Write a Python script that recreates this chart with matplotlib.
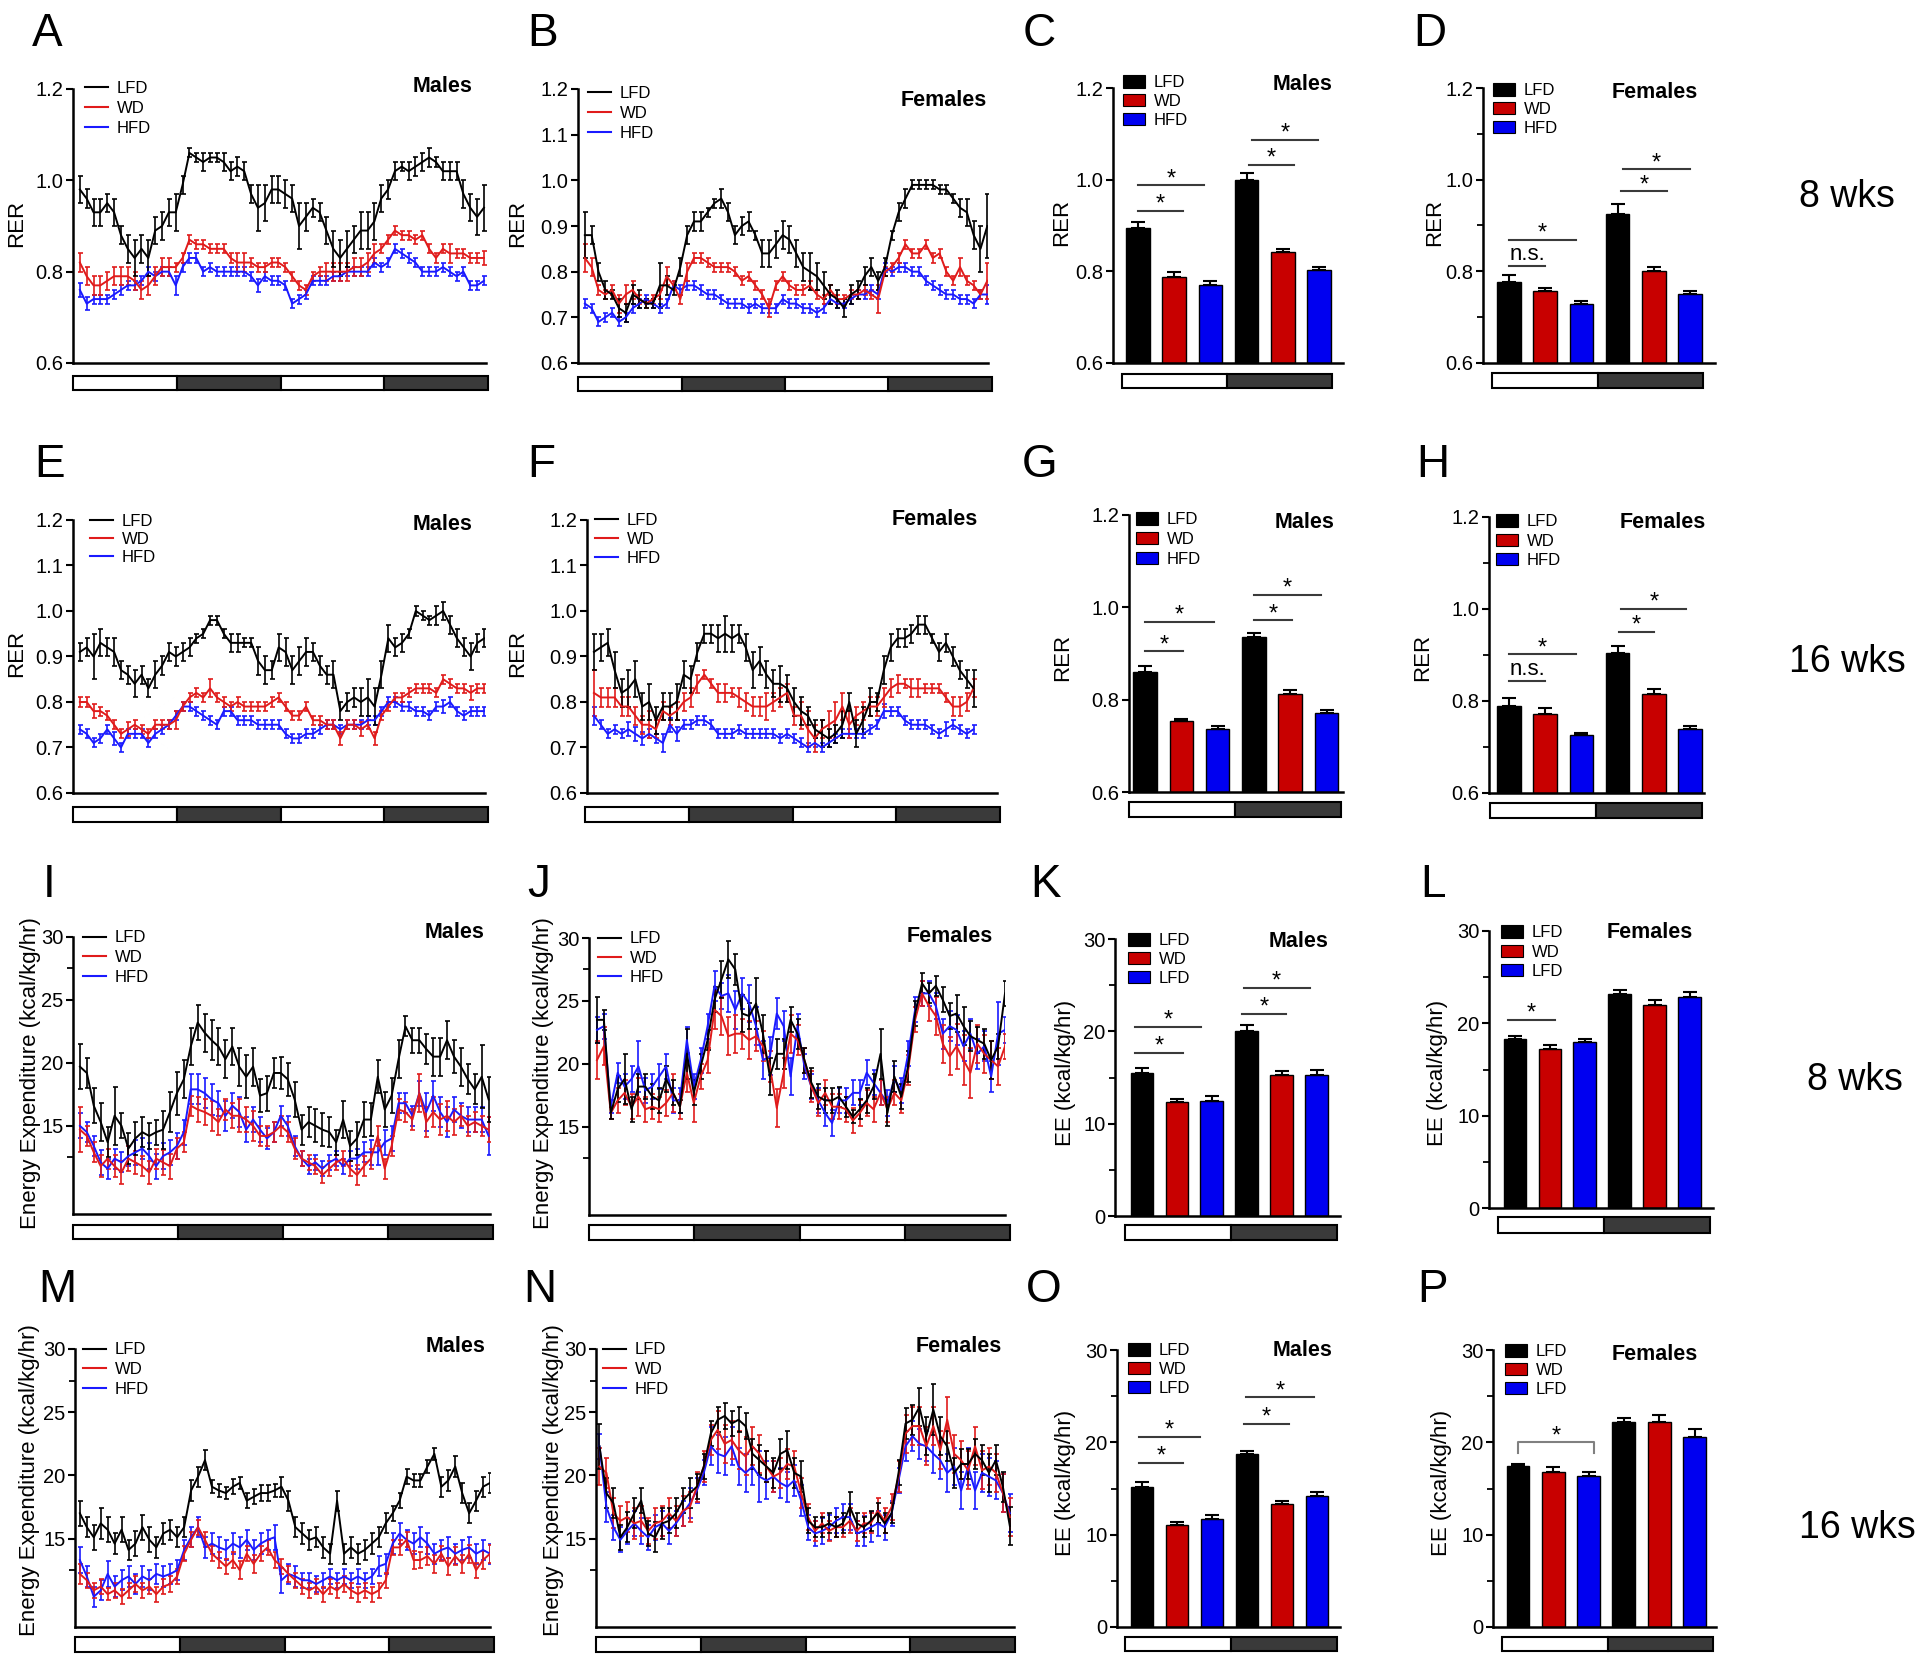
import numpy as np
import matplotlib
matplotlib.use("Agg")
import matplotlib.pyplot as plt
from matplotlib.lines import Line2D
from matplotlib.patches import Patch, Rectangle
from matplotlib.transforms import offset_copy

plt.rcParams['font.family'] = ['Liberation Sans', 'DejaVu Sans']

W, H = 1920, 1661

# ---------------- RER time courses (values x 0.01) ----------------
A_lfd = [98,96,93,93,95,93,88,85,83,85,83,89,90,93,93, 99,106,105,104,105,105,104,102,103,102,97,94,95,98,98,
         97,96,90,92,94,93,89,85,83,85,87,89,89,91,96, 98,102,103,102,103,104,105,104,102,102,102,97,94,92,94]
A_lfd_se = [3,2,3,3,2,3,2,3,4,3,4,3,3,3,4, 2,1,1,2,1,1,2,2,2,2,2,5,4,3,3,
            3,3,5,3,2,2,3,4,4,4,3,4,4,4,3, 2,2,1,2,2,2,2,1,2,2,2,3,3,4,5]
A_wd = [82,79,77,77,78,79,79,79,78,76,77,79,81,81,81, 83,87,86,86,85,85,85,83,82,82,82,81,81,82,82,
        81,79,77,76,79,80,80,80,80,80,81,81,82,84,85, 87,89,88,88,87,88,85,83,85,84,84,84,83,83,83]
A_wd_se = [2,2,2,2,2,2,2,2,2,2,2,2,2,2,1, 1,1,1,1,1,1,1,1,2,2,1,1,1,1,1,
           1,1,1,1,1,1,2,2,2,2,2,2,2,2,1, 1,1,1,1,1,1,1,1,1,2,1,1,1,1,1.5]
A_hfd = [76,73,74,74,74,75,76,77,77,78,80,79,80,80,77, 81,83,83,80,81,80,80,80,80,80,79,77,79,78,78,
         77,73,74,75,78,78,78,79,79,80,80,80,80,82,81, 82,85,84,83,82,80,80,80,81,80,79,80,77,77,78]
A_hfd_se = [1.5,1.5,1,1,1,1,1,1,1,1,1,1,1,1,2, 1,1,1,1,1,1,1,1,1,1,1,1.5,1,1,1,
            1,1,1,1,1,1,1,1,1,1,1,1,1,1,1, 1,1,1,1,1,1,1,1,1,1,1,1,1,1,1]

B_lfd = [88,88,80,76,75,72,71,75,74,73,73,77,77,76,81, 88,91,91,93,95,96,93,88,90,91,88,84,84,86,88,
         87,84,81,80,79,77,75,74,72,75,76,79,81,78,81, 88,93,96,99,99,99,99,98,98,96,94,93,88,85,90]
B_lfd_se = [5,2,2,2,1,2,2,2,2,1,1,5,2,1,2, 2,2,2,1,1,2,2,2,2,2,1,3,3,3,3,
            3,3,3,4,3,3,2,2,2,2,2,2,2,2,2, 1,2,2,1,1,1,1,1,1,1,2,3,3,5,7]
B_wd = [83,81,76,75,76,73,75,76,74,73,74,75,79,77,74, 80,83,83,82,81,81,81,80,78,79,77,75,72,77,79,
        77,76,76,77,75,74,76,74,74,75,75,76,75,74,80, 81,83,86,84,84,86,83,84,80,78,81,78,77,75,78]
B_wd_se = [3,2,1,1,1,2,2,2,1,1,1,1,2,1,1, 2,1,1,1,1,1,1,1,1,1,1,1,2,1,1,
           1,1,1,1,1,1,1,1,1,1,1,1,1,3,1, 1,1,1,1,1,1,1,1,1,1,2,1,1,1,4]
B_hfd = [73,72,69,70,71,69,70,72,73,74,73,72,73,77,76, 77,77,76,75,75,74,73,73,73,72,73,72,72,72,74,
         73,73,72,72,71,72,74,73,73,74,75,75,76,75,81, 80,81,81,80,80,78,77,76,75,75,74,74,73,75,75]
B_hfd_se = [1,1,1,1,1,1,1,1,1,1,1,1,1,1,1, 1,1,1,1,1,1,1,1,1,1,1,1,1,1,1,
            1,1,1,1,1,1,1,1,1,1,1,1,1,1,1, 1,1,1,1,1,1,1,1,1,1,1,1,1,1,2]

E_lfd = [91,92,90,93,92,91,87,86,84,86,83,86,88,91,90, 91,92,94,95,98,98,95,93,93,93,93,89,87,87,92,
         91,87,89,91,91,88,86,86,78,80,81,80,81,79,86, 94,92,93,95,100,99,98,99,100,97,94,92,90,93,94]
E_lfd_se = [2,2,5,3,2,3,2,2,3,2,2,3,2,2,2, 2,2,1,1,1,1,1,2,2,1,1,3,3,2,3,
            3,3,3,3,2,2,2,3,2,2,2,3,4,4,3, 3,2,2,1,1,1,1,2,2,2,2,2,3,2,2]
E_wd = [80,80,78,78,77,75,73,74,75,74,73,75,75,75,76, 79,81,82,81,83,81,80,79,80,79,79,79,79,80,81,
        79,77,77,79,76,76,75,75,72,75,75,74,75,72,77, 79,81,81,82,83,83,83,82,85,84,83,83,82,83,83]
E_wd_se = [1,1,1.5,1,1,1,1,1.5,1,1,1,1,1,1,2, 1,1,1,1,2,1,1,1,1,1,1,1,1,1,1,
           1,1,1,1,1,1,1,1,1.5,1,1,1.5,1,1.5,1, 1,1,1,1,1,1,1,1,1,1,1,1,1.5,1,1]
E_hfd = [74,73,71,72,74,72,70,73,73,73,71,73,74,75,77, 79,79,78,77,76,75,78,78,76,76,76,75,75,75,75,
         73,72,72,73,73,74,75,75,74,75,75,75,76,76,78, 80,80,79,79,78,78,77,79,79,80,78,77,78,78,78]
E_hfd_se = [1,1,1,1,1,1.5,1,1,1,1,1,1,1,1,1, 1,1,1,1,1,1,1,1,1,1,1,1,1,1,1,
            1,1,1,1,1,1,1,1,1,1,1,1,1,1,1, 1,1,1,1,1,1,1,1,1.5,1,1,1,1,1,1]

F_lfd = [91,92,93,87,82,83,85,79,80,76,79,79,80,86,85, 91,95,95,94,95,94,95,92,87,89,86,84,84,83,80,
         78,77,74,73,72,73,75,80,73,76,80,80,87,92,94, 94,95,97,97,94,91,93,90,87,85,83]
F_lfd_se = [4,3,3,4,3,4,4,3,4,3,3,3,4,3,3, 2,2,2,3,4,3,2,3,4,3,3,3,4,3,3,
            3,2,2,3,2,2,3,2,3,3,3,2,3,3,2, 2,2,2,2,1,2,2,2,2,2,4]
F_wd = [82,81,81,81,79,79,77,75,75,74,78,77,78,80,81, 84,86,84,82,82,82,81,80,79,79,79,80,81,82,77,
        77,74,72,74,75,76,79,75,77,78,79,79,81,83,84, 84,83,83,83,83,83,81,79,79,80,83]
F_wd_se = [5,2,2,2,2,2,2,2,3,2,2,2,2,2,2, 2,1,1,2,2,1,2,2,2,2,3,2,2,2,2,
           3,4,3,2,3,4,3,3,2,2,2,2,2,2,2, 1,2,2,1,1,1,1,2,2,2,2]
F_hfd = [77,75,73,74,73,74,73,72,73,72,71,75,73,75,75, 76,76,75,73,73,73,74,73,73,73,73,73,72,73,72,
         71,70,71,70,71,72,73,73,73,73,74,75,78,78,78, 76,75,75,75,74,73,74,75,74,73,74]
F_hfd_se = [2,1,1,1,1,1.5,1.5,1.5,1,1,2,1.5,1.5,1,1, 1,1,1,1,1,1,1,1,1,1,1,1,1,1,1,
            1,1,1,1,1,1,1,1,1,1,1,1,1.5,1,1, 1,1,1,1,1,1,1.5,1,1,1,1]

# ---------------- Energy expenditure time courses (kcal/kg/hr) ----------------
I_lfd = [19.7,19.2,16.6,15.3,13.7,15.8,15.0,13.2,14.0,14.5,14.2,14.5,14.7,16.1,17.6,
         18.7,21.3,23.2,22.4,21.8,21.3,20.3,21.3,19.7,18.9,19.7,17.4,17.6,19.2,19.2,
         18.7,17.1,14.7,15.3,15.0,14.7,14.5,13.7,15.5,13.4,14.0,15.5,15.5,18.9,16.3,
         17.4,20.3,22.9,21.8,21.8,21.1,20.5,20.5,21.8,20.5,19.7,18.7,17.9,18.9,17.1]
I_lfd_se = [1.8,1.2,1.4,1.5,1.2,2.3,1.0,1.2,1.3,1.2,1.0,1.0,1.5,1.6,1.7,
            1.5,1.5,1.4,1.5,1.6,1.5,1.5,1.5,1.5,1.7,1.5,1.3,1.4,1.2,1.3,
            1.3,1.4,1.2,1.2,1.3,1.3,1.2,1.0,1.5,1.2,1.3,1.4,1.3,1.3,1.4,
            1.4,1.5,0.8,1.0,1.0,1.2,1.5,1.5,1.5,1.3,1.5,1.2,1.2,2.5,1.8]
I_wd = [14.7,14.2,12.9,11.8,12.4,11.8,11.3,12.4,12.1,11.8,11.3,12.4,12.1,11.8,13.2,
        13.7,16.6,16.3,16.1,15.8,15.3,16.3,15.8,15.8,15.5,15.0,14.2,14.2,14.5,15.0,
        14.5,13.2,12.4,12.1,11.8,11.1,11.6,12.1,12.4,11.6,11.1,11.8,12.4,14.2,11.6,
        13.4,16.3,16.1,15.5,17.6,15.3,16.1,15.5,15.8,15.3,15.8,15.0,15.3,15.0,14.7]
I_wd_se = [1.8,0.8,0.8,0.9,0.8,0.9,0.9,1.0,0.9,0.8,0.9,0.8,1.0,1.0,0.8,
           0.8,0.8,1.0,1.0,1.2,1.0,0.8,1.0,1.3,1.0,1.2,0.8,0.8,0.8,0.8,
           0.8,0.8,0.6,0.6,0.6,0.6,0.6,0.6,0.6,0.6,0.8,0.8,0.8,0.8,0.8,
           0.8,0.8,0.8,0.8,1.5,1.2,1.2,1.2,1.2,1.0,0.8,0.8,0.8,0.8,1.0]
I_hfd = [15.0,14.5,13.4,12.1,11.6,12.4,12.1,12.6,12.9,13.2,12.6,11.8,12.6,12.9,13.4,
         14.5,17.9,17.9,17.6,17.1,16.8,15.8,16.6,16.1,14.7,15.5,14.7,14.0,14.5,15.8,
         15.0,13.4,12.4,11.8,12.1,11.6,12.1,12.4,11.8,12.4,12.4,12.9,12.9,12.9,13.7,
         14.0,16.8,16.8,15.8,17.6,16.1,17.4,16.1,15.3,16.3,15.8,15.5,15.5,15.5,14.2]
I_hfd_se = [1.0,0.8,0.8,1.0,0.8,0.8,0.8,0.8,1.0,0.8,1.0,1.0,1.0,1.0,1.0,
            1.0,1.2,1.2,1.2,1.2,1.0,1.2,1.0,1.2,1.0,1.0,1.0,0.8,0.8,0.8,
            0.8,0.8,0.6,0.6,0.6,0.6,0.6,0.6,0.6,0.6,0.8,0.8,1.0,1.0,1.0,
            1.0,0.8,0.8,0.8,1.0,1.5,1.2,1.2,1.2,1.0,1.0,1.0,1.0,1.0,1.5]

J_lfd = [23.5,23.5,16.1,18.0,18.8,16.4,18.2,18.2,17.4,17.1,18.8,17.7,16.6,20.8,17.7,
         19.8,21.9,25.1,26.7,28.3,27.5,24.0,23.8,24.8,22.4,19.0,20.8,20.8,23.5,22.4,
         20.3,18.5,17.4,17.1,17.1,17.4,16.6,15.8,16.4,17.1,18.2,20.8,16.1,19.0,17.4,
         19.8,24.0,26.4,25.6,26.2,25.1,23.8,24.0,23.0,22.2,21.9,21.6,20.3,21.4,25.6]
J_lfd_se = [1.8,0.8,0.5,1.0,2.0,1.0,1.0,1.0,1.0,1.0,1.0,1.0,0.5,2.0,1.0,
            1.0,0.8,1.0,1.5,1.5,1.2,1.5,1.0,2.0,1.5,1.5,1.2,1.2,1.0,1.2,
            1.0,1.2,1.0,1.0,1.0,0.8,0.8,0.5,0.8,1.0,1.0,2.0,1.0,1.2,1.0,
            1.2,1.0,0.8,0.8,0.8,1.0,1.0,1.5,1.5,1.2,1.0,1.2,1.5,1.0,1.0]
J_wd = [20.3,21.4,16.1,17.1,17.7,16.6,17.4,16.4,16.6,16.4,16.9,17.7,16.6,19.3,16.9,
        19.0,20.3,24.3,23.8,22.2,22.4,22.4,21.9,22.2,21.4,19.8,16.5,19.3,22.4,21.9,
        20.3,18.2,16.9,17.7,16.6,16.6,16.4,15.5,16.1,16.9,16.4,17.7,16.4,17.7,17.1,
        19.5,23.5,25.6,24.6,23.8,21.6,20.6,21.4,20.3,19.3,21.6,20.8,20.3,19.8,21.4]
J_wd_se = [1.5,1.5,0.5,1.0,1.0,1.0,1.5,1.0,1.0,1.0,1.0,1.5,1.0,1.5,1.5,
           1.0,1.0,1.5,1.5,1.5,1.5,1.2,1.5,1.2,1.2,1.2,1.5,1.2,1.5,1.2,
           1.0,1.2,1.0,1.0,1.0,1.0,1.0,1.0,1.0,1.0,1.0,1.0,1.0,1.0,1.0,
           1.2,1.0,1.0,1.2,1.5,1.5,1.5,1.8,2.0,2.0,1.5,1.5,1.5,1.5,1.0]
J_hfd = [22.7,23.0,16.6,19.3,18.2,18.8,19.8,17.9,18.2,19.0,19.8,17.1,17.1,21.9,18.2,
         20.3,23.0,26.2,25.4,25.6,24.3,25.6,24.8,23.0,20.3,20.6,24.0,23.0,19.0,23.0,
         19.8,18.2,17.1,16.1,15.3,17.1,17.1,17.7,17.7,19.3,18.5,17.7,16.9,18.8,17.9,
         20.8,24.3,25.6,25.6,24.6,22.4,23.0,22.7,21.4,22.4,20.8,21.4,19.0,22.4,22.7]
J_hfd_se = [1.0,1.0,0.5,0.8,1.0,1.0,2.0,1.0,1.0,1.0,1.0,1.0,1.0,1.0,1.0,
            1.0,1.0,1.2,1.0,1.5,1.5,1.2,1.5,1.5,1.5,1.5,1.2,1.2,1.5,1.0,
            1.0,1.0,1.0,1.0,1.0,1.0,1.0,1.0,1.0,1.0,1.0,1.0,1.0,1.0,1.0,
            1.0,1.0,1.0,1.0,1.0,1.2,1.2,1.2,1.2,1.2,1.2,1.2,1.2,2.5,1.0]

M_lfd = [17.0,15.9,15.1,16.2,15.7,14.6,15.7,14.1,14.6,15.9,14.9,14.3,15.4,15.7,15.1,
         15.9,18.8,19.9,21.2,19.1,18.8,18.6,19.1,19.4,18.0,18.3,18.6,18.6,18.8,19.1,
         18.0,15.9,15.4,14.9,15.1,14.3,13.8,18.0,13.8,14.3,13.8,14.1,14.6,15.1,16.2,
         17.0,18.0,19.9,19.6,19.6,20.7,21.7,19.1,19.6,20.7,18.6,17.0,18.0,19.1,19.4]
M_lfd_se = [1.0,0.8,1.0,1.2,1.0,0.8,1.0,0.8,1.0,1.0,1.0,0.8,0.8,0.8,0.8,
            0.8,0.8,0.8,0.8,0.5,0.5,0.5,0.6,0.5,0.6,0.6,0.6,0.6,0.5,0.8,
            0.8,0.8,0.8,0.8,0.8,0.8,0.8,0.8,0.8,0.8,0.8,0.8,0.8,0.8,0.8,
            0.6,0.6,0.6,0.5,0.5,0.5,0.5,0.8,0.8,0.8,0.8,0.8,0.8,0.8,0.8]
M_wd = [12.2,11.7,10.9,11.2,10.6,10.9,10.4,10.9,11.4,10.9,11.2,10.6,11.2,11.4,12.0,
        13.8,14.9,15.9,14.9,13.8,13.3,12.8,13.3,12.5,13.8,13.0,13.8,14.3,13.3,12.8,
        12.2,11.7,11.2,10.9,11.2,10.6,11.2,10.9,11.4,10.9,10.6,10.9,10.6,10.9,11.7,
        14.3,14.3,14.9,13.3,13.3,13.6,13.0,13.8,12.8,13.6,13.0,13.8,12.5,13.3,13.8]
M_wd_se = [0.8,0.6,0.6,0.6,0.5,0.6,0.6,0.6,0.6,0.6,0.6,0.6,0.6,0.6,0.6,
           0.6,0.6,0.6,0.6,0.6,0.6,0.6,0.6,0.7,0.6,0.7,0.6,0.6,0.6,0.6,
           0.6,0.6,0.6,0.6,0.6,0.6,0.6,0.6,0.6,0.6,0.6,0.6,0.6,0.6,0.6,
           0.6,0.6,0.6,0.7,0.6,0.7,0.7,0.6,0.7,0.7,0.7,0.7,0.6,0.7,0.7]
M_hfd = [13.3,12.0,10.4,10.9,12.2,11.2,11.7,12.0,11.4,12.0,11.7,12.2,12.0,12.2,12.5,
         14.1,15.1,15.9,14.3,14.6,14.3,14.1,14.6,14.3,14.9,14.1,14.6,14.9,15.1,11.7,
         12.2,12.0,11.7,11.7,11.4,11.7,12.0,11.7,12.0,11.7,12.0,11.7,12.0,12.8,13.0,
         14.6,15.4,14.9,14.6,15.1,14.6,13.8,14.1,14.3,13.8,14.1,14.3,13.8,14.1,13.8]
M_hfd_se = [1.0,0.8,0.8,0.8,1.0,0.8,0.8,0.8,0.8,0.8,0.8,0.8,0.8,0.8,0.8,
            0.8,0.8,0.8,0.8,0.8,0.8,0.8,0.8,0.8,0.8,0.8,0.8,0.8,1.0,1.0,
            0.8,0.8,0.6,0.6,0.6,0.6,0.6,0.6,0.6,0.6,0.6,0.6,0.6,0.8,0.8,
            0.8,0.8,0.8,0.8,0.8,0.8,0.8,0.8,0.8,0.8,0.8,0.8,0.8,0.8,0.8]

N_lfd = [22.3,18.6,17.8,15.1,15.9,17.0,18.0,15.4,15.1,16.2,16.4,17.0,18.0,18.6,19.1,
         20.7,23.3,24.4,24.7,24.1,24.4,23.9,21.7,21.2,20.7,20.2,21.7,22.0,20.2,19.9,
         16.4,15.9,15.9,16.2,15.9,16.2,17.5,16.2,15.9,16.4,17.0,16.2,17.0,20.2,24.1,
         24.4,25.4,23.1,25.2,23.1,22.3,20.2,20.9,20.9,21.7,21.2,20.2,21.2,19.1,16.0]
N_lfd_se = [1.8,1.2,1.2,1.0,1.2,1.2,1.0,1.0,1.2,1.2,1.0,1.2,1.0,1.2,1.0,
            1.0,1.0,1.0,1.0,1.0,1.0,1.0,1.2,1.2,1.2,1.2,1.2,1.5,1.2,1.2,
            1.0,0.8,0.8,0.8,0.8,0.8,1.2,0.8,0.8,0.8,0.8,0.8,0.8,1.0,1.2,
            1.2,1.5,1.5,2.0,1.5,1.2,1.2,1.2,1.2,1.2,1.2,1.5,1.2,1.2,1.5]
N_wd = [20.7,20.2,17.0,16.4,16.7,16.2,16.4,15.6,16.2,16.4,17.0,16.4,17.2,17.5,19.1,
        20.7,22.8,23.6,22.5,22.8,22.0,21.5,22.3,21.7,20.7,19.9,20.2,20.9,20.7,18.6,
        16.7,15.6,16.2,15.6,15.9,15.9,16.4,15.6,16.2,16.2,17.2,16.4,17.5,19.9,23.3,
        23.9,23.9,22.3,23.9,22.0,24.4,21.7,21.2,20.4,22.3,20.4,20.7,20.2,18.6,16.7]
N_wd_se = [1.5,1.2,1.2,1.2,1.2,1.2,1.2,1.0,1.2,1.2,1.2,1.2,1.2,1.2,1.2,
           1.2,1.2,1.5,1.5,1.5,1.5,1.5,1.5,1.5,1.2,1.2,1.2,1.2,1.2,1.2,
           1.0,0.8,0.8,0.8,0.8,0.8,1.0,0.8,0.8,0.8,1.0,1.0,1.0,1.2,1.5,
           1.5,1.5,1.5,1.5,1.5,1.8,1.5,1.5,1.5,1.5,1.5,1.5,1.5,1.5,1.5]
N_hfd = [22.3,17.5,15.9,14.9,15.6,16.2,15.6,15.1,15.9,16.2,15.6,16.2,17.0,17.8,18.8,
         20.2,22.3,21.7,21.5,22.3,20.7,20.2,20.7,19.9,19.6,19.9,19.4,19.1,19.6,18.0,
         15.9,15.4,15.6,15.9,16.4,16.7,16.7,15.4,15.6,15.9,16.2,15.9,17.0,19.6,22.3,
         23.1,22.5,22.3,21.7,21.2,20.2,20.7,18.8,20.7,18.8,20.2,19.9,19.6,18.6,17.0]
N_hfd_se = [1.0,1.2,1.0,1.0,1.0,1.0,1.0,1.0,1.0,1.0,1.0,1.0,1.0,1.2,1.0,
            1.0,1.5,1.5,1.5,1.5,1.5,1.5,1.5,2.0,1.5,1.2,1.2,1.2,1.2,1.2,
            1.0,1.0,1.0,1.0,1.0,1.0,1.0,1.0,1.2,1.2,1.0,1.0,1.0,1.0,1.2,
            1.2,1.2,1.2,1.5,1.5,1.5,1.5,1.5,1.5,1.5,1.5,1.5,1.5,1.5,1.5]

# ---------------- averaged bars: light LFD, WD, HFD, dark LFD, WD, HFD ----------------
C_vals = [0.895, 0.788, 0.771, 0.999, 0.842, 0.802]
C_err = [0.013, 0.011, 0.007, 0.015, 0.007, 0.007]
D_vals = [0.777, 0.756, 0.729, 0.926, 0.801, 0.751]
D_err = [0.015, 0.008, 0.006, 0.020, 0.009, 0.007]
G_vals = [0.860, 0.754, 0.737, 0.935, 0.812, 0.771]
G_err = [0.012, 0.004, 0.005, 0.010, 0.008, 0.006]
H_vals = [0.790, 0.772, 0.725, 0.905, 0.815, 0.740]
H_err = [0.016, 0.012, 0.006, 0.014, 0.010, 0.006]
K_vals = [15.45, 12.3, 12.5, 20.0, 15.3, 15.3]
K_err = [0.55, 0.35, 0.45, 0.65, 0.45, 0.55]
L_vals = [18.3, 17.2, 18.0, 23.2, 22.0, 22.8]
L_err = [0.35, 0.45, 0.30, 0.45, 0.55, 0.55]
O_vals = [15.2, 11.1, 11.7, 18.7, 13.3, 14.2]
O_err = [0.45, 0.25, 0.40, 0.35, 0.40, 0.45]
P_vals = [17.4, 16.8, 16.3, 22.2, 22.2, 20.6]
P_err = [0.30, 0.50, 0.50, 0.40, 0.80, 0.80]

# significance bars: (x1, x2, y, label)
C_sig = [(0, 1.25, 0.932, '*'), (0, 1.82, 0.988, '*'), (3.07, 4.3, 1.033, '*'), (3.15, 4.97, 1.087, '*')]
D_sig = [(0, 1.0, 0.812, 'n.s.'), (0, 1.85, 0.869, '*'), (3.09, 4.36, 0.975, '*'), (3.16, 5.0, 1.023, '*')]
G_sig = [(0, 1.05, 0.905, '*'), (0, 1.9, 0.969, '*'), (3.0, 4.05, 0.972, '*'), (3.0, 4.85, 1.027, '*')]
H_sig = [(0, 1.0, 0.844, 'n.s.'), (0, 1.85, 0.902, '*'), (3.05, 4.0, 0.95, '*'), (3.1, 4.9, 1.0, '*')]
K_sig = [(-0.2, 1.17, 17.7, '*'), (-0.2, 1.7, 20.5, '*'), (2.86, 4.14, 21.9, '*'), (2.92, 4.8, 24.7, '*')]
L_sig = [(-0.2, 1.14, 20.4, '*')]
O_sig = [(-0.1, 1.17, 17.8, '*'), (-0.1, 1.65, 20.6, '*'), (2.9, 4.2, 22.0, '*'), (2.97, 4.9, 24.9, '*')]
P_sig = [(0, 2.15, 20.0, '*')]

LINE_COLORS = ['#000000', '#e01b1b', '#1a1aff']
BAR_COLORS = ['#000000', '#c80000', '#0000f0']
DARK = '#3a3a3a'

fig = plt.figure(figsize=(W / 100, H / 100), dpi=100)


def px_ax(l, t, r, b):
    return fig.add_axes([l / W, 1 - b / H, (r - l) / W, (b - t) / H])


def ftext(x, y, s, **kw):
    fig.text(x / W, 1 - y / H, s, **kw)


def style_axis(ax, ylim, major, labels, minor):
    ax.set_ylim(*ylim)
    ax.set_yticks(major)
    ax.set_yticklabels(labels)
    ax.set_yticks(minor, minor=True)
    for s in ['top', 'right']:
        ax.spines[s].set_visible(False)
    for s in ['left', 'bottom']:
        ax.spines[s].set_linewidth(1.8)
    ax.tick_params(axis='y', which='major', length=5, width=1.5, labelsize=14.5, pad=2)
    ax.tick_params(axis='y', which='minor', length=4, width=1.3)
    ax.set_xticks([])


def strip(rect, n):
    sa = px_ax(*rect)
    sa.set_xlim(0, n)
    sa.set_ylim(0, 1)
    sa.axis('off')
    for i in range(n):
        sa.add_patch(Rectangle((i, 0), 1, 1, facecolor='white' if i % 2 == 0 else DARK,
                               edgecolor='black', lw=1.5, clip_on=False))


def legend(ax, rect, handles, labels, x_px, y_px, pitch, hl, hh=0.7):
    l, t, r, b = rect
    fs = 12
    fpx = fs * 100 / 72
    ls = max((pitch - 0.91 * fpx) / fpx, 0)
    top = y_px - 0.46 * fpx
    ax.legend(handles, labels, loc='upper left',
              bbox_to_anchor=((x_px - l) / (r - l), (b - top) / (b - t)),
              frameon=False, fontsize=fs, borderpad=0, borderaxespad=0,
              handlelength=hl, handleheight=hh, handletextpad=0.55, labelspacing=ls)


def sex_label(ax, rect, text, x_px, y_px):
    l, t, r, b = rect
    ax.text((x_px - l) / (r - l), (b - y_px) / (b - t), text, transform=ax.transAxes,
            ha='right', va='center', fontsize=15.5, fontweight='bold')


def line_panel(rect, srect, series, xlim, yaxis, leg, sex, sex_xy, names=('LFD', 'WD', 'HFD')):
    ax = px_ax(*rect)
    for (m, e), c in reversed(list(zip(series, LINE_COLORS))):
        x = np.arange(1, len(m) + 1)
        ax.errorbar(x, m, yerr=e, color=c, lw=1.4, elinewidth=1.2, capsize=1.8, capthick=1.2)
    ax.set_xlim(*xlim)
    style_axis(ax, *yaxis)
    handles = [Line2D([0], [0], color=c, lw=1.5) for c in LINE_COLORS]
    legend(ax, rect, handles, names, *leg, hl=1.35)
    sex_label(ax, rect, sex, *sex_xy)
    strip(srect, 4)
    return ax


def bar_panel(rect, srect, vals, errs, c0, sp, yaxis, leg, sex, sex_xy, sigs, names, bracket=False):
    l, t, r, b = rect
    ax = px_ax(*rect)
    pos = np.arange(len(vals))
    ax.bar(pos, vals, width=0.65, color=BAR_COLORS * 2, edgecolor='black', lw=1)
    ax.errorbar(pos, vals, yerr=[np.zeros(len(vals)), errs], fmt='none', ecolor='black',
                elinewidth=1.5, capsize=5, capthick=1.5)
    ax.set_xlim((l - c0) / sp, (r - c0) / sp)
    style_axis(ax, *yaxis)
    handles = [Patch(facecolor=c, edgecolor='black', lw=0.8) for c in BAR_COLORS]
    legend(ax, rect, handles, names, *leg, hl=1.3, hh=0.75)
    sex_label(ax, rect, sex, *sex_xy)
    span = yaxis[0][1] - yaxis[0][0]
    for x1, x2, y, s in sigs:
        if bracket:
            d = span * 0.04
            ax.plot([x1, x1, x2, x2], [y - d, y, y, y - d], color='#808080', lw=1.5)
        else:
            ax.plot([x1, x2], [y, y], color='#3a3a3a', lw=1.5)
        off = 0 if s == '*' else 4
        tr = offset_copy(ax.transData, fig=fig, y=off, units='points')
        ax.text((x1 + x2) / 2, y, s, transform=tr, ha='center', va='baseline',
                fontsize=17 if s == '*' else 16)
    strip(srect, 2)
    return ax


rer_a = ((0.6, 1.2), [0.6, 0.8, 1.0, 1.2], ['0.6', '0.8', '1.0', '1.2'], [])
rer_b = ((0.6, 1.2), [0.6, 0.7, 0.8, 0.9, 1.0, 1.1, 1.2],
         ['0.6', '0.7', '0.8', '0.9', '1.0', '1.1', '1.2'], [])
rer_bar = ((0.6, 1.2), [0.6, 0.8, 1.0, 1.2], ['0.6', '0.8', '1.0', '1.2'], [0.7, 0.9, 1.1])
ee_line = ((8, 30), [15, 20, 25, 30], ['15', '20', '25', '30'], [12.5, 27.5])
ee_bar = ((0, 30), [0, 10, 20, 30], ['0', '10', '20', '30'], [5, 15, 25])


def rer(v):
    return np.array(v) / 100


# ---- row 1: 8 wks RER ----
line_panel((73, 89, 486, 363), (73, 376, 488, 390),
           [(rer(A_lfd), rer(A_lfd_se)), (rer(A_wd), rer(A_wd_se)), (rer(A_hfd), rer(A_hfd_se))],
           (0, 60.3), rer_a, (85, 89, 20), 'Males', (473, 87))
line_panel((578, 89, 988, 363), (578, 377, 992, 391),
           [(rer(B_lfd), rer(B_lfd_se)), (rer(B_wd), rer(B_wd_se)), (rer(B_hfd), rer(B_hfd_se))],
           (0, 60.1), rer_b, (588, 94, 20), 'Females', (987, 100))
bar_panel((1113, 88, 1343, 363), (1122, 374, 1332, 388), C_vals, C_err, 1138, 36.2,
          rer_a, (1123, 83, 19), 'Males', (1333, 85), C_sig, ['LFD', 'WD', 'HFD'])
bar_panel((1483, 88, 1715, 363), (1492, 373, 1703, 388), D_vals, D_err, 1509, 36.2,
          rer_bar, (1493, 91, 19), 'Females', (1698, 92), D_sig, ['LFD', 'WD', 'HFD'])

# ---- row 2: 16 wks RER ----
line_panel((73, 520, 485, 793), (73, 807, 488, 822),
           [(rer(E_lfd), rer(E_lfd_se)), (rer(E_wd), rer(E_wd_se)), (rer(E_hfd), rer(E_hfd_se))],
           (0, 60.1), rer_b, (90, 522, 18), 'Males', (473, 525))
line_panel((587, 520, 997, 793), (585, 807, 1000, 822),
           [(rer(F_lfd), rer(F_lfd_se)), (rer(F_wd), rer(F_wd_se)), (rer(F_hfd), rer(F_hfd_se))],
           (0, 59.4), rer_b, (595, 521, 19), 'Females', (978, 520))
bar_panel((1129, 515, 1343, 792), (1129, 802, 1341, 817), G_vals, G_err, 1145, 36.3,
          rer_a, (1136, 520, 20), 'Males', (1335, 522), G_sig, ['LFD', 'WD', 'HFD'])
bar_panel((1489, 517, 1704, 793), (1490, 803, 1702, 818), H_vals, H_err, 1509, 36.2,
          rer_bar, (1496, 522, 19.5), 'Females', (1706, 523), H_sig, ['LFD', 'WD', 'HFD'])

# ---- row 3: 8 wks EE ----
line_panel((73, 937, 490, 1214), (73, 1225, 493, 1239),
           [(I_lfd, I_lfd_se), (I_wd, I_wd_se), (I_hfd, I_hfd_se)],
           (0, 60.2), ee_line, (83, 938, 20), 'Males', (485, 933))
line_panel((589, 938, 1005, 1215), (589, 1225, 1010, 1240),
           [(J_lfd, J_lfd_se), (J_wd, J_wd_se), (J_hfd, J_hfd_se)],
           (-0.15, 60), ee_line, (598, 939, 19.5), 'Females', (993, 936))
bar_panel((1115, 939, 1340, 1216), (1125, 1225, 1337, 1240), K_vals, K_err, 1142, 34.9,
          ee_bar, (1128, 941, 19), 'Males', (1328, 941), K_sig, ['LFD', 'WD', 'LFD'])
bar_panel((1489, 931, 1713, 1208), (1498, 1217, 1710, 1233), L_vals, L_err, 1515, 34.9,
          ee_bar, (1501, 933, 19.5), 'Females', (1693, 932), L_sig, ['LFD', 'WD', 'LFD'])

# ---- row 4: 16 wks EE ----
line_panel((75, 1349, 490, 1627), (75, 1637, 494, 1652),
           [(M_lfd, M_lfd_se), (M_wd, M_wd_se), (M_hfd, M_hfd_se)],
           (0.3, 60), ee_line, (83, 1350, 20), 'Males', (485, 1346))
line_panel((596, 1349, 1014, 1627), (596, 1637, 1015, 1652),
           [(N_lfd, N_lfd_se), (N_wd, N_wd_se), (N_hfd, N_hfd_se)],
           (0.5, 60.6), ee_line, (603, 1350, 20), 'Females', (1002, 1346))
bar_panel((1117, 1350, 1340, 1627), (1125, 1637, 1337, 1651), O_vals, O_err, 1142, 35.0,
          ee_bar, (1128, 1351, 19), 'Males', (1332, 1350), O_sig, ['LFD', 'WD', 'LFD'])
bar_panel((1493, 1350, 1716, 1627), (1502, 1637, 1713, 1651), P_vals, P_err, 1518, 35.3,
          ee_bar, (1505, 1352, 19), 'Females', (1698, 1355), P_sig, ['LFD', 'WD', 'LFD'],
          bracket=True)

# ---- axis titles ----
for x, y in [(17, 223), (518, 223), (1062, 222), (1435, 222),
             (17, 653), (518, 653), (1063, 657), (1423, 657)]:
    ftext(x, y, 'RER', rotation=90, ha='center', va='center', fontsize=16)
for x, y in [(31, 1073), (544, 1073), (30, 1480), (553, 1480)]:
    ftext(x, y, 'Energy Expenditure (kcal/kg/hr)', rotation=90, ha='center', va='center', fontsize=16)
for x, y in [(1066, 1073), (1438, 1073), (1066, 1483), (1441, 1483)]:
    ftext(x, y, 'EE (kcal/kg/hr)', rotation=90, ha='center', va='center', fontsize=16)

# ---- panel letters ----
letters = ['A', 'B', 'C', 'D', 'E', 'F', 'G', 'H', 'I', 'J', 'K', 'L', 'M', 'N', 'O', 'P']
letter_xy = [(32, 12), (527, 12), (1023, 12), (1413, 12),
             (34, 443), (527, 443), (1022, 443), (1416, 443),
             (43, 863), (527, 863), (1030, 863), (1420, 863),
             (38, 1268), (523, 1268), (1026, 1268), (1417, 1268)]
for s, (x, y) in zip(letters, letter_xy):
    ftext(x, y, s, ha='left', va='top', fontsize=33)

# ---- age labels ----
for s, (x, y) in zip(['8 wks', '16 wks', '8 wks', '16 wks'],
                     [(1847, 197), (1847, 662), (1855, 1080), (1857, 1528)]):
    ftext(x, y, s, ha='center', va='center', fontsize=27)

fig.savefig('out.png', dpi=100)
